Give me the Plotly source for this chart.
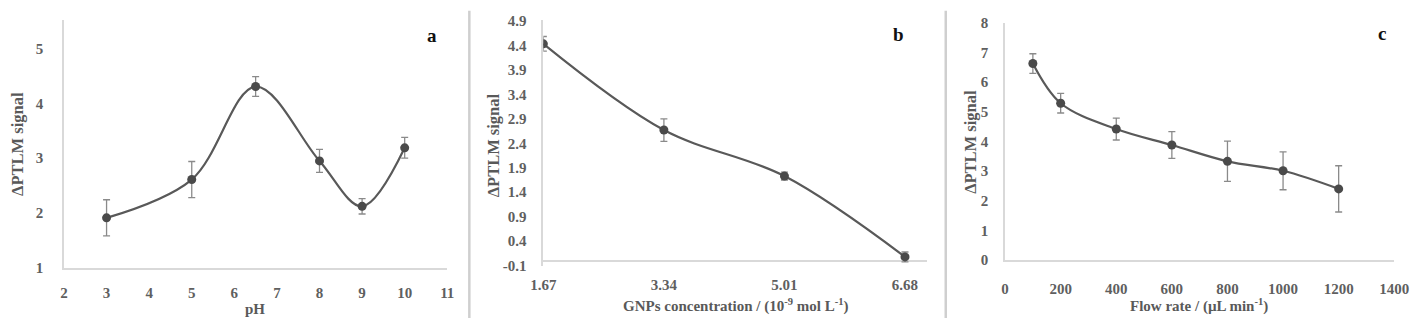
import plotly.graph_objects as go

# ---- data ----
ph = [3, 5, 6.5, 8, 9, 10]
signal_a = [1.91, 2.61, 4.31, 2.95, 2.12, 3.19]
err_a = [0.33, 0.33, 0.18, 0.21, 0.14, 0.19]

gnp = [1.67, 3.34, 5.01, 6.68]
signal_b = [4.43, 2.67, 1.73, 0.08]
err_b = [0.15, 0.23, 0.08, 0.10]

flow = [100, 200, 400, 600, 800, 1000, 1200]
signal_c = [6.63, 5.29, 4.42, 3.88, 3.33, 3.01, 2.40]
err_c = [0.33, 0.33, 0.37, 0.45, 0.68, 0.64, 0.78]

xticks_a = list(range(2, 12))
yticks_a = [1, 2, 3, 4, 5]
xticks_b = gnp
yticks_b = [-0.1, 0.4, 0.9, 1.4, 1.9, 2.4, 2.9, 3.4, 3.9, 4.4, 4.9]
xticks_c = list(range(0, 1401, 200))
yticks_c = list(range(0, 9))

W, H = 1422, 326
def xd(a, b):
    return [a / W, b / W]
def yd(top, bottom):
    return [1 - bottom / H, 1 - top / H]
def px(x):
    return x / W
def py(y):
    return 1 - y / H

LINE = "#595959"
MARK = "#4a4a4a"
ERR = "#8a8a8a"
AXIS = "#d9d9d9"
TICK = "#5f5f5f"
SERIF = "Liberation Serif"

fig = go.Figure()

def add_series(x, y, e, xa, ya):
    fig.add_trace(go.Scatter(
        x=x, y=y, xaxis=xa, yaxis=ya, mode="lines+markers",
        line=dict(color=LINE, width=2.2, shape="spline", smoothing=1),
        marker=dict(color=MARK, size=9),
        error_y=dict(type="data", array=e, visible=True, color=ERR,
                     thickness=1.3, width=3.5),
        showlegend=False, hoverinfo="x+y"))

add_series(ph, signal_a, err_a, "x", "y")
add_series(gnp, signal_b, err_b, "x2", "y2")
add_series(flow, signal_c, err_c, "x3", "y3")

tickfont = dict(family=SERIF, size=15, color=TICK, weight="bold")

common_x = dict(showgrid=False, zeroline=False, tickfont=tickfont, ticks="",
                fixedrange=True)
common_y = dict(showgrid=False, tickfont=tickfont, ticks="", fixedrange=True)

fig.update_layout(
    width=W, height=H, margin=dict(l=0, r=0, t=0, b=0),
    paper_bgcolor="white", plot_bgcolor="white",
    xaxis=dict(domain=xd(52, 443), range=[2, 11], tickvals=xticks_a,
               showline=True, linecolor=AXIS, linewidth=1.5,
               ticklabelstandoff=11, anchor="y", **common_x),
    yaxis=dict(domain=yd(13, 273), range=[1, 5.52], tickvals=yticks_a,
               showline=True, linecolor=AXIS, linewidth=1.5, zeroline=False,
               ticklabelstandoff=16, anchor="x", **common_y),
    xaxis2=dict(domain=xd(541, 932), range=[1.67, 6.98], tickvals=xticks_b,
                ticktext=["1.67", "3.34", "5.01", "6.68"],
                showline=False, ticklabelstandoff=8, anchor="y2", **common_x),
    yaxis2=dict(domain=yd(13, 271), range=[-0.1, 4.91], tickvals=yticks_b,
                ticktext=[f"{v:.1f}" for v in yticks_b],
                showline=True, linecolor=AXIS, linewidth=1.5,
                zeroline=True, zerolinecolor=AXIS, zerolinewidth=1.5,
                ticklabelstandoff=12, anchor="x2", **common_y),
    xaxis3=dict(domain=xd(1012, 1409), range=[0, 1400], tickvals=xticks_c,
                showline=True, linecolor=AXIS, linewidth=1.5,
                ticklabelstandoff=14, anchor="y3", **common_x),
    yaxis3=dict(domain=yd(15.7, 265), range=[0, 8], tickvals=yticks_c,
                showline=True, linecolor=AXIS, linewidth=1.5, zeroline=False,
                ticklabelstandoff=12, anchor="x3", **common_y),
)

titlefont = dict(family=SERIF, size=15, color="#595959", weight="bold")
ytitlefont = dict(family=SERIF, size=16.5, color="#595959", weight="bold")
ann = []
# x titles
ann.append(dict(x=px(247), y=py(317), text="pH"))
ann.append(dict(x=px(737), y=py(313),
                text="GNPs concentration / (10<sup>-9</sup> mol L<sup>-1</sup>)"))
ann.append(dict(x=px(1210), y=py(313),
                text="Flow rate / (µL min<sup>-1</sup>)"))
for a in ann:
    a.update(xref="paper", yref="paper", showarrow=False, font=titlefont,
             xanchor="center", yanchor="middle")
ylab = []
for xc, yc in [(5, 143), (491, 144), (976, 141)]:
    ylab.append(dict(x=px(xc), y=py(yc), xref="paper", yref="paper",
                     text="ΔPTLM signal", textangle=-90, showarrow=False,
                     font=ytitlefont, xanchor="center", yanchor="middle"))
panel = []
for xc, yc, t in [(427, 29, "a"), (903, 28, "b"), (1397, 27, "c")]:
    panel.append(dict(x=px(xc), y=py(yc), xref="paper", yref="paper",
                      text=t, showarrow=False,
                      font=dict(family=SERIF, size=19, color="#111111",
                                weight="bold"),
                      xanchor="center", yanchor="middle"))
fig.update_layout(annotations=ann + ylab + panel)

# panel separators
for xs in [465.5, 951.5]:
    fig.add_shape(type="line", xref="paper", yref="paper",
                  x0=px(xs), x1=px(xs), y0=py(326), y1=py(3),
                  line=dict(color="#cfcfcf", width=2.5))

fig.write_html("out.html")
